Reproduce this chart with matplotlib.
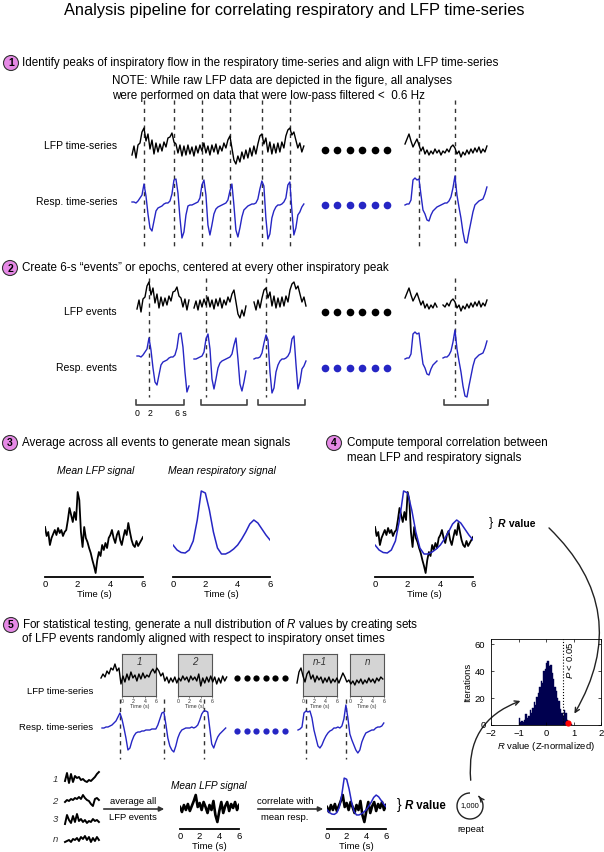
import matplotlib
matplotlib.use('Agg')
import matplotlib.pyplot as plt
import numpy as np
from matplotlib.patches import Circle, Arc, FancyArrowPatch
from matplotlib.transforms import blended_transform_factory

plt.rcParams['font.family'] = ['Liberation Sans', 'DejaVu Sans']
plt.rcParams['mathtext.fontset'] = 'custom'
plt.rcParams['mathtext.rm'] = 'Liberation Sans'
plt.rcParams['mathtext.it'] = 'Liberation Sans:italic'
plt.rcParams['mathtext.bf'] = 'Liberation Sans:bold'

## DATA
# step 1: two stretches of LFP / respiration, one sample every 0.231 s
dt_ts = 0.231
lfp_a = [-6, 3, -9, 4, 6, 17, 21, 8, 15, 0, 9, -5, 6, -3, 5, -2, 7, 2, 11, 12,
         16, 7, 5, -4, 4, -7, 3, -6, 4, -5, 2, -7, 3, -4, 4, -2, 6, -4, 3, -6,
         4, -3, 5, -5, 3, -2, 6, 1, 9, 13, 1, -11, -15, -7, -13, -3, -10, -1, -9, 1,
         -7, 3, -5, 5, 13, 15, 5, 11, -3, 7, -5, 5, -4, 6, -3, 7, 1, 13, 19, 21,
         14, 17, 9, 1, 6, -3, 3]
resp_a = [0, 0, -1, 1, 4, 7, 18, 6, -12, -26, -29, -19, -9, -6, -5, -4, -2, -1, -1, 1,
          8, 22, 23, 9, -16, -36, -30, -13, -4, -3, -3, -2, -1, 0, 4, 17, 22, 7, -23, -33,
          -23, -12, -7, -5, -4, -3, -2, -1, 2, 11, 18, -3, -28, -35, -26, -15, -8, -6, -4, -3,
          -2, -2, -1, 3, 13, 21, 16, -16, -37, -32, -16, -9, -5, -3, -3, -2, 0, 4, 17, 20,
          -8, -33, -26, -13, -10, -5, -2]
lfp_b = [5, 10, 15, 8, 2, 6, 10, 4, -2, 2, -5, -1, -6, -2, -5, 0, -4, -1, -6, -2,
         -4, 0, -3, 2, 4, 1, -5, -2, -8, -3, -6, -1, -5, 0, -4, 1, -3, 2, -4, 0,
         -3, 3]
resp_b = [-3, -2, -2, 2, 22, 24, 22, 23, 7, -8, -12, -18, -19, -13, -9, -7, -5, -4, -3, -2,
          -1, -1, 1, 5, 14, 26, 7, -5, -16, -30, -40, -41, -30, -20, -10, -3, -1, 1, 2, 3,
          8, 15]
peaks_a = [6, 21, 35, 49, 65, 79]
peaks_b = [7, 25]

# step 2: 6-s events cut from the series (first, last sample)
events_a = [(0, 26), (29, 55), (59, 85)]
events_b = [(0, 16), (19, 41)]

# step 3: mean signals over 0-6 s
mean_lfp = [50, 41, 45, 32, 39, 43, 47, 42, 49, 44, 47, 41, 45, 47, 57, 69, 62, 55, 65, 57,
            85, 77, 45, 30, 50, 39, 35, 29, 24, 17, 11, 4, 17, 25, 21, 32, 27, 34, 29, 39,
            42, 47, 39, 34, 42, 46, 37, 32, 40, 47, 42, 54, 45, 37, 32, 30, 36, 31, 34, 37,
            40]
mean_resp = [32, 27, 24.5, 24, 27, 36, 57, 86, 84, 67, 45, 29, 23, 23, 25, 28, 32, 38, 45, 53,
             57, 54, 48, 42, 37]

# step 5: series used for the null distribution, one sample every 0.35 s
dt_null = 0.35
null_lfp_1 = [2, 6, 3, 9, 6, 12, 10, 16, 9, 12, -4, 4, -2, 6, 0, 8, 2, 5, -1, 6,
              1, 7, 2, 5, 3, 8, 11, 7, 12, 9, 4, 7, -1, 3, -3, 2, -2, 3, -3, 2,
              -1, 4, 0, 3, -2, 4, 0, 3, -1, 6, -6, 2, -3, 3, -2, 4, -2, 3, -4, 2,
              -3, 4, -1, 3]
null_lfp_2 = [-3, 8, 12, 4, -2, 6, 9, 1, 5, -2, 4, 0, 3, -3, 2, -2, 3, -3, 1, -2,
              2, -3, 2, 7, 3, -2, 0, -4, -1, -5, 0, -3, 1, -4, 0, -3, 2, -2, 1, -3,
              2, -1, 3, 1]
null_resp_1 = [0, 0, 1, 1, 2, 3, 5, 7, 11, 15, 9, 0, -10, -22, -20, -13, -8, -5, -4, -4,
               -3, -3, -2, -2, -2, -1, -1, -1, 3, 9, 15, 16, 4, -10, -18, -22, -24, -18, -10, -5,
               -2, -1, 0, 0, 0, 1, 0, 1, 3, 8, 14, 17, 17, 16, 0, -16, -20, -14, -9, -6,
               -4, -2, 0]
null_resp_2 = [-2, -1, 1, 15, 17, 16, 17, 10, -2, -10, -18, -20, -17, -12, -8, -5, -3, -2, 0, 0,
               1, 0, 2, 9, 23, 10, -6, -12, -17, -22, -25, -22, -14, -9, -5, -4, -3, -2, -2, 0,
               1, 1, 2, 5]
peaks_null_1 = [9, 31, 51]
peaks_null_2 = [4, 24]
# random 6-s windows (start time, s) and their labels
windows_1 = [3.7, 13.5]
windows_2 = [1.05, 9.3]
window_names = ['1', '2', 'n-1', 'n']

# a few single LFP events and their mean (0-6 s)
single_events = [[-2, 6, -4, 5, -3, 3, 1, 2, -1, 0, -2, -3, -1, -2, 0, 2, 5, 7],
                 [-1, 1, 0, 2, 1, 3, 2, 4, 2, 6, 3, 1, 0, -3, -5, 2, 3, 1],
                 [-4, 5, 0, -3, 4, -2, 6, -1, 1, -2, 0, -3, -1, -2, 1, -1, 0, -2],
                 [-2, -1, 0, -2, 1, 0, 2, -1, 3, 1, 4, 0, 3, -2, 2, -1, 3, 0]]
single_names = ['1', '2', '3', 'n']
null_mean_lfp = [22, 17, 24, 19, 25, 18, 23, 28, 34, 22, 26, 19, 27, 22, 16, 24, 19, 28, 14, 7,
                 18, 27, 16, 23, 27, 18, 25, 21, 27, 19, 24]

# null distribution of R (Z-normalized), bins of 0.05 starting at -1.0
hist_counts = [5, 2, 3, 2, 4, 8, 5, 7, 11, 9, 13, 17, 15, 21, 24, 28, 33, 31, 40, 42,
               46, 48, 44, 45, 39, 34, 28, 25, 20, 18, 12, 9, 7, 11, 9, 4, 2, 1, 1]
r_observed = 0.8
r_crit = 0.6

## FIGURE
W, H = 604, 852
fig = plt.figure(figsize=(W / 100, H / 100), dpi=100)
bg = fig.add_axes([0, 0, 1, 1])
bg.set_xlim(0, W)
bg.set_ylim(H, 0)
bg.axis('off')

BLUE = '#2626c4'
DASH = dict(color='#333333', lw=1.0, ls=(0, (3, 3)))
HFS = 8.4   # header font size


def px_axes(x0, x1, top, bottom):
    ax = fig.add_axes([x0 / W, 1 - bottom / H, (x1 - x0) / W, (bottom - top) / H])
    ax.set_facecolor('none')
    return ax


def trace(x0, base, t, v, pxps, color, lw, lo=-50, hi=50):
    # one pixel per amplitude unit, pxps pixels per second
    x1 = x0 + (t[-1] - t[0]) * pxps
    ax = px_axes(x0, x1, base - hi, base - lo)
    ax.plot(t, v, color=color, lw=lw, clip_on=False)
    ax.set_xlim(t[0], t[-1])
    ax.set_ylim(lo, hi)
    ax.axis('off')
    return ax


def vdash(ax, t, top, bottom):
    tr = blended_transform_factory(ax.transData, bg.transData)
    bg.plot([t, t], [top, bottom], transform=tr, **DASH)


def step_label(x, y, n):
    bg.add_patch(Circle((x, y), 7.5, facecolor='#e689e6', edgecolor='#333333', lw=0.8))
    bg.text(x, y + 0.5, n, ha='center', va='center', fontsize=7.5, fontweight='bold')


def dots(x0, x1, y, color, ms):
    bg.plot(np.linspace(x0, x1, 6), [y] * 6, 'o', color=color, ms=ms, mec='none')


def time_axis(ax, fs=6.8):
    for s in ['top', 'right', 'left']:
        ax.spines[s].set_visible(False)
    ax.spines['bottom'].set_linewidth(1.3)
    ax.set_xlim(0, 6)
    ax.set_xticks([0, 2, 4, 6])
    ax.set_yticks([])
    ax.tick_params(axis='x', length=0, labelsize=fs, pad=2.5)
    ax.set_xlabel('Time (s)', fontsize=fs, labelpad=0.5)


def r_value(x, y, fs):
    t1 = bg.text(x, y, 'R', fontsize=fs, fontweight='bold', fontstyle='italic',
                 va='center', ha='left')
    bg.annotate(' value', xy=(1, 0.5), xycoords=t1, va='center', ha='left',
                fontsize=fs, fontweight='bold')


bg.text(294, 10, 'Analysis pipeline for correlating respiratory and LFP time-series',
        ha='center', va='center', fontsize=11.8)

# ---- step 1
step_label(11, 63, '1')
bg.text(22, 63, 'Identify peaks of inspiratory flow in the respiratory time-series and align with LFP time-series',
        va='center', fontsize=HFS)
bg.text(112, 81, 'NOTE: While raw LFP data are depicted in the figure, all analyses',
        va='center', fontsize=HFS)
bg.text(112, 96, 'were performed on data that were low-pass filtered <  0.6 Hz',
        va='center', fontsize=HFS)

bg.text(117, 146, 'LFP time-series', ha='right', va='center', fontsize=7.5)
bg.text(117, 202, 'Resp. time-series', ha='right', va='center', fontsize=7.5)

t_a = np.arange(len(lfp_a)) * dt_ts
t_b = np.arange(len(lfp_b)) * dt_ts
pxps = 8.65
ax_la = trace(132, 149, t_a, lfp_a, pxps, 'black', 1.0)
ax_ra = trace(132, 202, t_a, resp_a, pxps, BLUE, 1.0)
ax_lb = trace(405, 149, t_b, lfp_b, pxps, 'black', 1.0)
ax_rb = trace(405, 202, t_b, resp_b, pxps, BLUE, 1.0)
for p in peaks_a:
    vdash(ax_ra, t_a[p], 100, 247)
for p in peaks_b:
    vdash(ax_rb, t_b[p], 100, 247)
dots(325, 387, 150, 'black', 5.5)
dots(325, 387, 205, BLUE, 5.5)

# ---- step 2
step_label(10, 268, '2')
bg.text(22, 268, 'Create 6-s \u201cevents\u201d or epochs, centered at every other inspiratory peak',
        va='center', fontsize=HFS)
bg.text(117, 312, 'LFP events', ha='right', va='center', fontsize=7.5)
bg.text(117, 368, 'Resp. events', ha='right', va='center', fontsize=7.5)

ev_x = [137, 194, 254]
for (i0, i1), x0, p in zip(events_a, ev_x, peaks_a[::2]):
    sl = slice(i0, i1 + 1)
    trace(x0, 303, t_a[sl], lfp_a[sl], pxps, 'black', 1.0)
    ax = trace(x0, 356, t_a[sl], resp_a[sl], pxps, BLUE, 1.0)
    vdash(ax, t_a[p], 278, 397)
ev_xb = [405, 443]
for (i0, i1), x0 in zip(events_b, ev_xb):
    sl = slice(i0, i1 + 1)
    trace(x0, 303, t_b[sl], lfp_b[sl], pxps, 'black', 1.0)
    ax = trace(x0, 356, t_b[sl], resp_b[sl], pxps, BLUE, 1.0)
    if i0 <= peaks_b[1] <= i1:
        vdash(ax, t_b[peaks_b[1]], 278, 397)
dots(325, 387, 312, 'black', 5.5)
dots(325, 387, 368, BLUE, 5.5)

for x0, x1 in [(136, 184), (201, 247), (258, 305), (444, 488)]:
    bg.plot([x0, x0, x1, x1], [400, 405, 405, 400], color='#444444', lw=1.2)
bg.text(137, 413, '0', ha='center', va='center', fontsize=6.3)
bg.text(150, 413, '2', ha='center', va='center', fontsize=6.3)
bg.text(181, 413, '6 s', ha='center', va='center', fontsize=6.3)

# ---- step 3
step_label(10, 443, '3')
bg.text(22, 443, 'Average across all events to generate mean signals', va='center', fontsize=HFS)
bg.text(96, 471, 'Mean LFP signal', ha='center', va='center', fontsize=7.5, fontstyle='italic')
bg.text(222, 471, 'Mean respiratory signal', ha='center', va='center', fontsize=7.5,
        fontstyle='italic')

t_ml = np.arange(len(mean_lfp)) * 0.1
t_mr = np.arange(len(mean_resp)) * 0.25

ax3a = px_axes(45, 143, 485, 577)
ax3a.plot(t_ml, mean_lfp, color='black', lw=1.3)
ax3a.set_ylim(0, 92)
time_axis(ax3a)

ax3b = px_axes(173, 270, 485, 577)
ax3b.plot(t_mr, mean_resp, color=BLUE, lw=1.1)
ax3b.set_ylim(0, 92)
time_axis(ax3b)

# ---- step 4
step_label(334, 443, '4')
bg.text(347, 443, 'Compute temporal correlation between', va='center', fontsize=HFS)
bg.text(347, 458, 'mean LFP and respiratory signals', va='center', fontsize=HFS)

ax4 = px_axes(375, 473, 485, 577)
ax4.plot(t_ml, mean_lfp, color='black', lw=1.3)
ax4.plot(t_mr, mean_resp, color=BLUE, lw=1.1)
ax4.set_ylim(0, 92)
time_axis(ax4)
bg.text(491, 523, '}', ha='center', va='center', fontsize=9)
r_value(498, 524, 7.5)

# ---- step 5
step_label(11, 625, '5')
bg.text(22, 625, 'For statistical testing, generate a null distribution of $R$ values by creating sets',
        va='center', fontsize=HFS)
bg.text(22, 639, 'of LFP events randomly aligned with respect to inspiratory onset times',
        va='center', fontsize=HFS)
bg.text(93, 691, 'LFP time-series', ha='right', va='center', fontsize=6.8)
bg.text(93, 728, 'Resp. time-series', ha='right', va='center', fontsize=6.8)

pxps_n = 5.7
t_n1 = np.arange(len(null_lfp_1)) * dt_null
t_n2 = np.arange(len(null_lfp_2)) * dt_null
t_r1 = np.arange(len(null_resp_1)) * dt_null
t_r2 = np.arange(len(null_resp_2)) * dt_null

names = iter(window_names)
for x0, tl, lf, tr_, rs, wins, pk in [(101, t_n1, null_lfp_1, t_r1, null_resp_1, windows_1, peaks_null_1),
                                      (297, t_n2, null_lfp_2, t_r2, null_resp_2, windows_2, peaks_null_2)]:
    # windows drawn first so the trace sits on top
    for w0 in wins:
        xa = x0 + w0 * pxps_n
        bx = px_axes(xa, xa + 6 * pxps_n, 654, 696)
        bx.set_facecolor('#d4d4d4')
        for s in bx.spines.values():
            s.set_color('#555555')
            s.set_linewidth(0.8)
        bx.set_xlim(0, 6)
        bx.set_xticks([0, 2, 4, 6])
        bx.set_yticks([])
        bx.tick_params(axis='x', length=1.5, width=0.4, labelsize=3.8, pad=0.8,
                       colors='#333333')
        bx.set_xlabel('Time (s)', fontsize=3.8, labelpad=0, color='#333333')
        bx.text(0.5, 0.8, next(names), transform=bx.transAxes, ha='center', va='center',
                fontsize=7, fontstyle='italic', color='#333333')
    trace(x0, 680, tl, lf, pxps_n, 'black', 1.0)
    ax = trace(x0 + 1, 728, tr_, rs, pxps_n, BLUE, 1.0)
    for p in pk:
        vdash(ax, tr_[p], 699, 759)
dots(237, 285, 678, 'black', 4.5)
dots(237, 285, 731, BLUE, 4.5)

# single events -> mean -> correlate
for k, (ev, nm) in enumerate(zip(single_events, single_names)):
    yb = [779, 801, 820, 840][k]
    trace(65, yb, np.arange(len(ev)) * 0.35, ev, 5.7, 'black', 1.4, lo=-8, hi=8)
    bg.text(55, yb, nm, ha='center', va='center', fontsize=6.8, fontstyle='italic',
            color='#333333')

bg.annotate('', xy=(167, 809), xytext=(101, 809),
            arrowprops=dict(arrowstyle='-|>', color='#333333', lw=1.2, mutation_scale=7))
bg.text(133, 802, 'average all', ha='center', va='center', fontsize=6.8)
bg.text(133, 817, 'LFP events', ha='center', va='center', fontsize=6.8)
bg.text(209, 786, 'Mean LFP signal', ha='center', va='center', fontsize=7.3, fontstyle='italic')

t_nm = np.arange(len(null_mean_lfp)) * 0.2
axm = px_axes(180, 239, 789, 829)
axm.plot(t_nm, null_mean_lfp, color='black', lw=1.9)
axm.set_ylim(0, 40)
time_axis(axm)

bg.annotate('', xy=(326, 809), xytext=(255, 809),
            arrowprops=dict(arrowstyle='-|>', color='#333333', lw=1.2, mutation_scale=7))
bg.text(285, 802, 'correlate with', ha='center', va='center', fontsize=6.8)
bg.text(285, 817, 'mean resp.', ha='center', va='center', fontsize=6.8)

axo = px_axes(327, 386, 774, 829)
axo.plot(t_nm, null_mean_lfp, color='black', lw=1.9, zorder=3)
axo.set_ylim(0, 55)
time_axis(axo)
axo2 = axo.twinx()
axo2.plot(t_mr, mean_resp, color=BLUE, lw=1.1)
axo2.set_ylim(-1, 93)
axo2.axis('off')
bg.text(399, 805, '}', ha='center', va='center', fontsize=10)
r_value(405, 806, 8.3)

# repeat loop
bg.add_patch(Arc((470, 806), 26, 26, theta1=-50, theta2=270, color='#222222', lw=1.0))
ang = np.deg2rad(50)
tip = (470 + 13 * np.cos(ang), 806 - 13 * np.sin(ang))
bg.add_patch(FancyArrowPatch((tip[0] + 2.5, tip[1] + 2.8), (tip[0] - 1.0, tip[1] - 1.6),
                             arrowstyle='->', mutation_scale=7, color='#222222', lw=1.0))
bg.text(470, 806, '1,000', ha='center', va='center', fontsize=5.5)
bg.text(471, 829, 'repeat', ha='center', va='center', fontsize=6.8)

# ---- null distribution histogram
hax = px_axes(491, 601, 639, 725)
centers = -0.975 + 0.05 * np.arange(len(hist_counts))
hax.bar(centers, hist_counts, width=0.05, color='#00004f', edgecolor='#00004f', lw=0.3)
hax.axvline(r_crit, color='black', ls=':', lw=0.8)
hax.plot([r_observed], [1.5], 'o', color='red', ms=4.5, mec='none', clip_on=False, zorder=5)
hax.text(r_crit + 0.1, 62, '$P$ < 0.05', rotation=90, ha='left', va='top', fontsize=6.8)
hax.set_xlim(-2, 2)
hax.set_ylim(0, 64)
hax.set_xticks([-2, -1, 0, 1, 2])
hax.set_yticks([0, 20, 40, 60])
hax.tick_params(direction='in', length=2, width=0.5, labelsize=6.8, top=True, right=True)
hax.tick_params(axis='x', pad=3)
hax.tick_params(axis='y', pad=4)
for s in hax.spines.values():
    s.set_linewidth(0.6)
hax.set_ylabel('Iterations', fontsize=6.8, labelpad=2)
hax.set_xlabel('$R$ value (Z-normalized)', fontsize=6.8, labelpad=1)

# curved arrows
bg.add_patch(FancyArrowPatch((547, 526), (573, 716), connectionstyle='arc3,rad=-0.4',
                             arrowstyle='->', mutation_scale=8, color='#222222', lw=1.0))
bg.add_patch(FancyArrowPatch((471, 783), (523, 700), connectionstyle='arc3,rad=-0.4',
                             arrowstyle='->', mutation_scale=8, color='#222222', lw=1.0))

fig.savefig('out.png', dpi=100)
